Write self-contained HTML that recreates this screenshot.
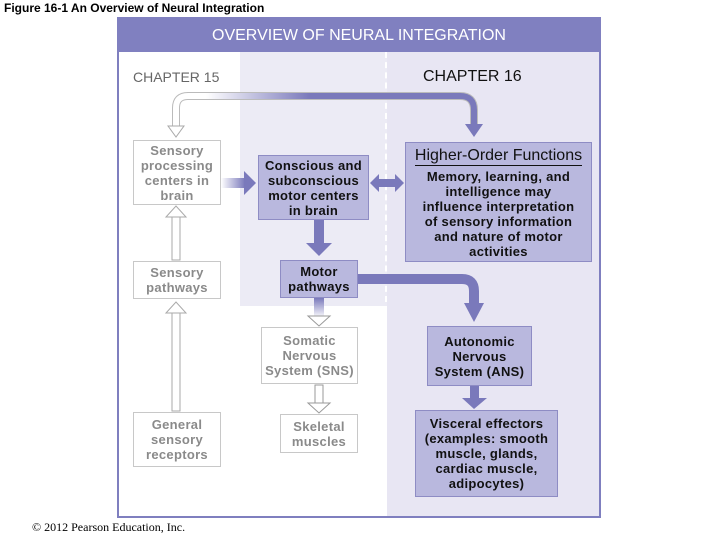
<!DOCTYPE html>
<html><head><style>
body{margin:0;width:720px;height:540px;background:#fff;position:relative;overflow:hidden;font-family:"Liberation Sans",sans-serif}
.b{position:absolute;box-sizing:border-box;display:flex;align-items:center;justify-content:center;text-align:center;font-weight:bold;font-size:13px;line-height:15px;letter-spacing:0.3px}
.w{background:#fff;border:1px solid #c8c8c8;color:#8a8a8a}
.p{background:#b9b8de;border:1px solid #8e8cc4;color:#111}
.t{position:absolute}
</style></head><body>
<div class="t" style="left:4px;top:1px;font-size:12px;font-weight:bold">Figure 16-1 An Overview of Neural Integration</div>
<div class="t" style="left:117px;top:17px;width:484px;height:501px;border:2px solid #7f7fbf;box-sizing:border-box;background:#fff"></div>
<div class="t" style="left:117px;top:17px;width:484px;height:35px;background:#8080c0;color:#fff;font-size:16px;text-align:center;line-height:38px">OVERVIEW OF NEURAL INTEGRATION</div>
<div class="t" style="left:240px;top:52px;width:147px;height:254px;background:#ecebf5"></div>
<div class="t" style="left:387px;top:52px;width:212px;height:464px;background:#e8e6f3"></div>
<div class="t" style="left:385px;top:52px;width:0;height:250px;border-left:2px dashed #fff"></div>
<div class="t" style="left:133px;top:69px;font-size:14px;color:#666">CHAPTER 15</div>
<div class="t" style="left:423px;top:68px;font-size:16px;color:#111">CHAPTER 16</div>
<svg class="t" style="left:0;top:0" width="720" height="540">
<defs><linearGradient id="g" x1="0" x2="1"><stop offset="0.1" stop-color="#fff"/><stop offset="0.45" stop-color="#7a79bb"/></linearGradient>
<linearGradient id="g2" x1="0" x2="1"><stop offset="0" stop-color="#fff"/><stop offset="1" stop-color="#7a79bb"/></linearGradient>
<linearGradient id="g3" x1="0" y1="0" x2="0" y2="1"><stop offset="0" stop-color="#7a79bb"/><stop offset="1" stop-color="#fff"/></linearGradient></defs>
<path d="M176 128 V108 Q176 96 188 96 H460 Q474 96 474 110 V128" fill="none" stroke="#bbb" stroke-width="8"/>
<path d="M176 128 V108 Q176 96 188 96 H460 Q474 96 474 110 V128" fill="none" stroke="url(#g)" stroke-width="6"/>
<path d="M168 126 H184 L176 137 Z" fill="#fff" stroke="#aaa"/>
<path d="M465 124 H483 L474 137 Z" fill="#7a79bb"/>
<rect x="221" y="178" width="24" height="10" fill="url(#g2)"/><path d="M244 171 L256 183 L244 195 Z" fill="#7a79bb"/>
<path d="M370 183 L379 174 V179 H395 V174 L404 183 L395 192 V187 H379 V192 Z" fill="#7a79bb"/>
<rect x="314" y="220" width="10" height="25" fill="#7a79bb"/><path d="M306 243 H332 L319 256 Z" fill="#7a79bb"/>
<path d="M358 279 H462 Q474 279 474 291 V304" fill="none" stroke="#7a79bb" stroke-width="10"/>
<path d="M464 303 H484 L474 322 Z" fill="#7a79bb"/>
<rect x="470" y="386" width="9" height="14" fill="#7a79bb"/><path d="M462 398 H487 L474 409 Z" fill="#7a79bb"/>
<rect x="314" y="298" width="10" height="20" fill="url(#g3)"/><path d="M308 316 H330 L319 326 Z" fill="#fff" stroke="#999"/>
<rect x="315" y="385" width="8" height="20" fill="#fff" stroke="#999"/><path d="M308 403 H330 L319 413 Z" fill="#fff" stroke="#999"/>
<rect x="172" y="215" width="8" height="45" fill="#fff" stroke="#aaa"/><path d="M166 217 L176 206 L186 217 Z" fill="#fff" stroke="#aaa"/>
<rect x="172" y="312" width="8" height="99" fill="#fff" stroke="#aaa"/><path d="M166 313 L176 302 L186 313 Z" fill="#fff" stroke="#aaa"/>
</svg>
<div class="b w" style="left:133px;top:140px;width:88px;height:65px">Sensory processing centers in brain</div>
<div class="b w" style="left:133px;top:261px;width:88px;height:38px">Sensory pathways</div>
<div class="b w" style="left:133px;top:412px;width:88px;height:55px">General sensory receptors</div>
<div class="b p" style="left:258px;top:155px;width:111px;height:65px;padding:0 4px">Conscious and subconscious motor centers in brain</div>
<div class="b p" style="left:280px;top:260px;width:78px;height:38px">Motor pathways</div>
<div class="b w" style="left:261px;top:327px;width:97px;height:57px">Somatic Nervous System (SNS)</div>
<div class="b w" style="left:280px;top:414px;width:78px;height:39px">Skeletal muscles</div>
<div class="b p" style="left:405px;top:142px;width:187px;height:120px;flex-direction:column;justify-content:flex-start;padding:3px 12px 0"><div style="font-weight:normal;font-size:16px;line-height:19px;border-bottom:1px solid #111;margin-bottom:3px;white-space:nowrap;letter-spacing:0">Higher-Order Functions</div>Memory, learning, and intelligence may influence interpretation of sensory information and nature of motor activities</div>
<div class="b p" style="left:427px;top:326px;width:105px;height:60px">Autonomic Nervous System (ANS)</div>
<div class="b p" style="left:415px;top:410px;width:143px;height:87px">Visceral effectors (examples: smooth muscle, glands, cardiac muscle, adipocytes)</div>
<div class="t" style="left:32px;top:520px;font-family:'Liberation Serif',serif;font-size:12px">© 2012 Pearson Education, Inc.</div>
</body></html>
